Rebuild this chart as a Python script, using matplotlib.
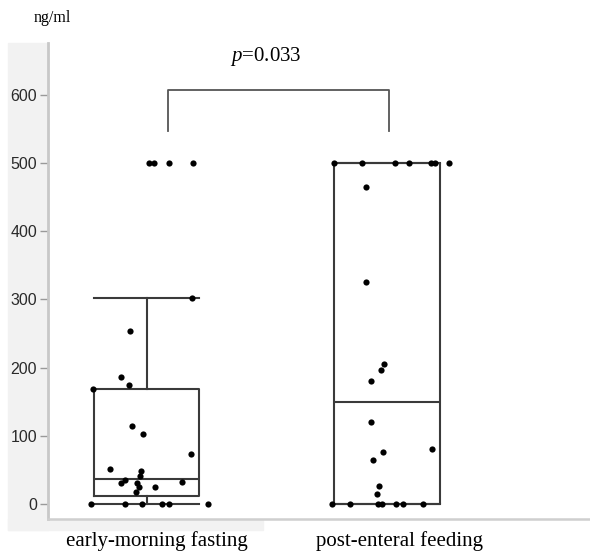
import matplotlib
matplotlib.use("Agg")
import matplotlib.pyplot as plt
from matplotlib.patches import Rectangle

# group labels
groups = ["early-morning fasting", "post-enteral feeding"]

# individual values (ng/ml)
fasting_vals = [500, 500, 500, 500, 302, 254, 186, 175, 168, 115, 102, 74,
                51, 49, 41, 35, 31, 31, 32, 25, 25, 17,
                0, 0, 0, 0, 0, 0]
fasting_jitter = [0.01, 0.03, 0.094, 0.193, 0.189, -0.069, -0.106, -0.073, -0.222,
                  -0.06, -0.015, 0.185, -0.152, -0.023, -0.027, -0.089, -0.106,
                  -0.04, 0.148, -0.031, 0.035, -0.044,
                  -0.231, -0.089, -0.019, 0.064, 0.094, 0.256]

feeding_vals = [500, 500, 500, 500, 500, 500, 500, 465, 326, 205, 197, 181,
                120, 80, 76, 65, 27, 15,
                0, 0, 0, 0, 0, 0, 0]
feeding_jitter = [-0.22, -0.104, 0.033, 0.091, 0.183, 0.199, 0.258, -0.087, -0.087,
                  -0.012, -0.025, -0.067, -0.067, 0.187, -0.017, -0.058, -0.033,
                  -0.042,
                  -0.229, -0.154, -0.037, -0.021, 0.037, 0.066, 0.15]

# box statistics as drawn: lower whisker, Q1, median, Q3, upper whisker
box_low = [0, 0]
box_q1 = [12, 0]
box_med = [37, 150]
box_q3 = [169, 500]
box_high = [302, 500]

p_text = "$p$=0.033"
yticks = [0, 100, 200, 300, 400, 500, 600]

plt.rcParams["mathtext.fontset"] = "custom"
plt.rcParams["mathtext.rm"] = "Liberation Serif"
plt.rcParams["mathtext.it"] = "Liberation Serif:italic"

W, H = 590, 552
fig = plt.figure(figsize=(W / 100, H / 100), dpi=100)

# gray frame behind the y axis and under the left group
def px_rect(x0, y0, x1, y1, color):
    fig.patches.append(Rectangle((x0 / W, 1 - y1 / H), (x1 - x0) / W, (y1 - y0) / H,
                                 transform=fig.transFigure, color=color, zorder=-5))

px_rect(8, 43, 48, 530, "#f2f2f2")
px_rect(8, 519, 263, 530, "#f2f2f2")

ax = fig.add_axes([48 / W, 1 - 519 / H, 1 - 48 / W, (519 - 43) / H])
ax.set_facecolor("white")
ax.set_ylim(-22, 676)
ax.set_xlim(-0.41, 1.844)

stats = []
for i in range(2):
    stats.append(dict(whislo=box_low[i], q1=box_q1[i], med=box_med[i],
                      q3=box_q3[i], whishi=box_high[i], fliers=[]))
lp = dict(color="#3a3a3a", linewidth=1.5)
ax.bxp(stats, positions=[0, 1], widths=0.44, capwidths=0.44, showfliers=False,
       boxprops=lp, whiskerprops=lp, capprops=lp, medianprops=lp)

for i, (vals, jit) in enumerate([(fasting_vals, fasting_jitter),
                                  (feeding_vals, feeding_jitter)]):
    xs = [i + j for j in jit]
    ax.scatter(xs, vals, s=20, color="black", zorder=5, linewidths=0)

# significance bracket
ax.plot([0.089, 0.089, 1.008, 1.008], [547, 607, 607, 547], color="#555555", lw=1.3)
ax.text(0.497, 640, p_text, ha="center", va="bottom", fontsize=15,
        family="Liberation Serif")

ax.set_yticks(yticks)
ax.set_yticklabels([str(t) for t in yticks], family="Liberation Sans",
                   fontsize=11.5, color="#2a2a2a")
ax.tick_params(axis="y", length=6, width=1, color="#999999", pad=2)
ax.set_xticks([])
for s in ["top", "right"]:
    ax.spines[s].set_visible(False)
ax.spines["left"].set_color("#c8c8c8")
ax.spines["left"].set_linewidth(2)
ax.spines["bottom"].set_color("#cfcfcf")
ax.spines["bottom"].set_linewidth(1.8)

fig.text(157 / W, 1 - 541 / H, groups[0], ha="center", va="center",
         fontsize=15, family="Liberation Serif")
fig.text(400 / W, 1 - 541 / H, groups[1], ha="center", va="center",
         fontsize=15, family="Liberation Serif")
fig.text(52 / W, 1 - 18 / H, "ng/ml", ha="center", va="center",
         fontsize=11.5, family="Liberation Serif")

fig.savefig("out.png", dpi=100)
